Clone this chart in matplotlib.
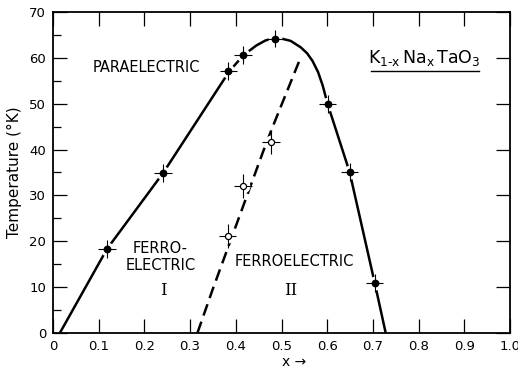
import matplotlib
matplotlib.use("Agg")
import matplotlib.pyplot as plt
from matplotlib.ticker import MultipleLocator

plt.rcParams['font.family'] = ['DejaVu Sans']

# Paraelectric / ferroelectric phase boundary (solid curve)
boundary_x = [0.015, 0.118, 0.241, 0.386, 0.417, 0.445, 0.465, 0.485,
              0.504, 0.520, 0.542, 0.556, 0.568, 0.580, 0.590, 0.601, 0.649, 0.704, 0.728]
boundary_T = [0.0, 18.3, 34.9, 57.1, 60.6, 62.7, 63.8, 64.3,
              64.1, 63.7, 62.3, 61.0, 59.3, 56.9, 54.0, 49.9, 35.1, 10.9, 0.0]

# Ferroelectric I / II boundary (dashed curve)
fe_boundary_x = [0.316, 0.349, 0.461, 0.478, 0.542]
fe_boundary_T = [0.0, 9.4, 39.9, 44.3, 60.1]

# Measured transition temperatures
filled_x = [0.118, 0.241, 0.384, 0.416, 0.485, 0.601, 0.649, 0.704]
filled_T = [18.3, 34.9, 57.1, 60.6, 64.2, 49.9, 35.1, 10.9]
open_x = [0.382, 0.416, 0.477]
open_T = [21.1, 32.0, 41.7]

x_ticks = [0, 0.1, 0.2, 0.3, 0.4, 0.5, 0.6, 0.7, 0.8, 0.9, 1.0]
x_ticklabels = ["0", "0.1", "0.2", "0.3", "0.4", "0.5", "0.6", "0.7", "0.8", "0.9", "1.0"]
y_ticks = [0, 10, 20, 30, 40, 50, 60, 70]

fig = plt.figure(figsize=(5.18, 3.70), dpi=100)
ax = fig.add_axes([0.1023, 0.1, 0.8823, 0.8676])

ax.set_xlim(0, 1.0)
ax.set_ylim(0, 70)

# curves
ax.plot(boundary_x, boundary_T, color='black', lw=1.8, zorder=2,
        solid_capstyle='butt', solid_joinstyle='round')
ax.plot(fe_boundary_x, fe_boundary_T, color='black', lw=1.8, zorder=2,
        linestyle=(0, (4.8, 2.6)), dash_capstyle='butt')

# white halos break the curves around each point
ax.plot(filled_x + open_x, filled_T + open_T, linestyle='none', marker='o',
        markersize=10, markerfacecolor='white', markeredgecolor='none', zorder=3)

# error crosses
ax.errorbar(filled_x, filled_T, xerr=0.019, yerr=1.9, fmt='none',
            ecolor='black', elinewidth=0.8, capsize=0, zorder=4)
ax.errorbar(open_x, open_T, xerr=0.019, yerr=2.6, fmt='none',
            ecolor='black', elinewidth=0.8, capsize=0, zorder=4)

ax.plot(filled_x, filled_T, linestyle='none', marker='o', markersize=4.6,
        markerfacecolor='black', markeredgecolor='black', zorder=5)
ax.plot(open_x, open_T, linestyle='none', marker='o', markersize=4.4,
        markerfacecolor='white', markeredgecolor='black', markeredgewidth=0.9,
        zorder=5)

# ticks
ax.set_xticks(x_ticks)
ax.set_xticklabels(x_ticklabels)
ax.set_yticks(y_ticks)
ax.yaxis.set_minor_locator(MultipleLocator(5))
ax.tick_params(which='major', direction='in', length=10, width=0.9,
               top=True, right=True, labelsize=9.5, pad=5)
ax.tick_params(which='minor', direction='in', length=6, width=0.9,
               left=True, right=False)
for s in ax.spines.values():
    s.set_linewidth(1.3)

ax.set_ylabel("Temperature (°K)", fontsize=11, labelpad=5)
ax.set_xlabel("x \u2192", fontsize=10, labelpad=4)
ax.xaxis.set_label_coords(0.527, -0.07)

# region labels
ax.text(0.204, 58, "PARAELECTRIC", fontsize=10.5, ha='center', va='center')
ax.text(0.235, 16.6, "FERRO-\nELECTRIC", fontsize=10.5, ha='center',
        va='center', linespacing=1.2)
ax.text(0.241, 9.2, "I", fontsize=12, ha='center', va='center',
        family='DejaVu Serif')
ax.text(0.527, 15.5, "FERROELECTRIC", fontsize=10.5, ha='center', va='center')
ax.text(0.52, 9.2, "II", fontsize=12, ha='center', va='center',
        family='DejaVu Serif')

# compound label with underline
ax.text(0.812, 60.0, r"$\mathregular{K_{1\text{-}x}\,Na_x\,TaO_3}$", fontsize=12.5,
        ha='center', va='center')
ax.plot([0.695, 0.932], [57.1, 57.1], color='black', lw=1.0)

fig.savefig("out.png", dpi=100)
